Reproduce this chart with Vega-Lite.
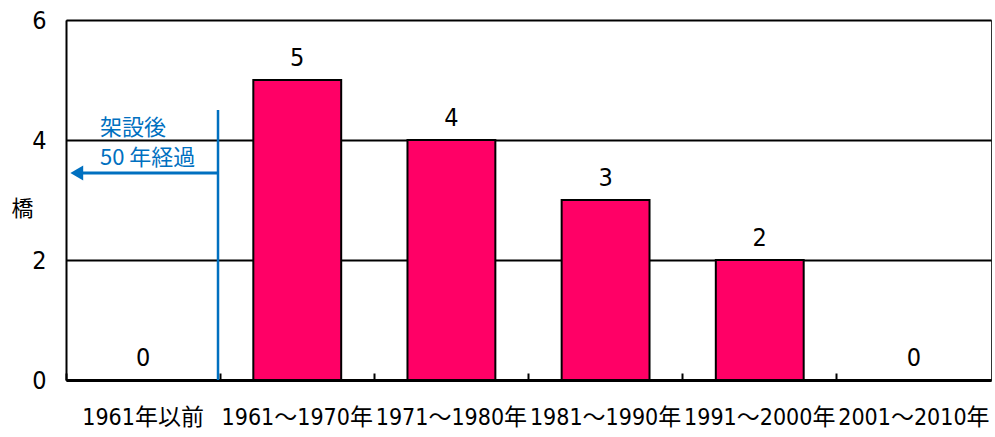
{
  "$schema": "https://vega.github.io/schema/vega-lite/v6.json",
  "width": 925,
  "height": 360,
  "autosize": {"type": "none"},
  "padding": {"left": 66, "top": 20, "right": 4, "bottom": 57},
  "background": "white",
  "config": {
    "view": {"stroke": "#333333", "strokeWidth": 1},
    "font": "DejaVu Sans Condensed, Noto Sans CJK JP, sans-serif"
  },
  "datasets": {
    "bars": [
      {"period": "1961年以前", "count": 0},
      {"period": "1961～1970年", "count": 5},
      {"period": "1971～1980年", "count": 4},
      {"period": "1981～1990年", "count": 3},
      {"period": "1991～2000年", "count": 2},
      {"period": "2001～2010年", "count": 0}
    ],
    "notes": [
      {"x": 0.22, "y": 4.2, "text": "架設後"},
      {"x": 0.22, "y": 3.7, "text": "50 年経過"}
    ],
    "vline": [{"x": 0.986, "y": 0, "y2": 4.5}],
    "arrow": [{"x": 0.986, "x2": 0.1, "y": 3.45}],
    "head": [{"x": 0.07, "y": 3.45}]
  },
  "layer": [
    {
      "data": {"name": "bars"},
      "encoding": {
        "x": {
          "field": "period", "type": "nominal", "sort": null,
          "scale": {"paddingInner": 0, "paddingOuter": 0},
          "axis": {
            "title": null, "labelAngle": 0, "bandPosition": 0, "labelOffset": 0,
            "labelFontSize": 23, "labelColor": "black", "labelPadding": 33,
            "labelFont": "DejaVu Sans Condensed, Noto Sans CJK JP, sans-serif",
            "domainColor": "black", "domainWidth": 3,
            "tickColor": "black", "tickWidth": 2, "tickSize": -7,
            "grid": false
          }
        },
        "y": {
          "field": "count", "type": "quantitative",
          "scale": {"domain": [0, 6], "nice": false},
          "axis": {
            "values": [0, 2, 4, 6], "format": "d", "title": "橋", "titleAngle": 0,
            "titleFontSize": 22, "titleFontWeight": "normal", "titleColor": "black",
            "titleX": -44, "titleY": 188, "titleAlign": "center", "titleBaseline": "middle",
            "titleFont": "Noto Sans CJK JP, sans-serif",
            "labelFontSize": 25, "labelColor": "black", "labelPadding": 20,
            "ticks": false, "domainColor": "black", "domainWidth": 2,
            "grid": true, "gridColor": "black", "gridWidth": 2, "gridOpacity": 1
          }
        }
      },
      "layer": [
        {
          "mark": {"type": "bar", "fill": "#FF0066", "stroke": "black", "strokeWidth": 2, "width": {"band": 0.57}}
        },
        {
          "mark": {"type": "text", "fontSize": 25, "color": "black", "baseline": "alphabetic", "dy": -14},
          "encoding": {"text": {"field": "count", "type": "quantitative"}}
        }
      ]
    },
    {
      "layer": [
        {
          "data": {"name": "vline"},
          "mark": {"type": "rule", "color": "#0070C0", "strokeWidth": 2.5},
          "encoding": {
            "x": {"field": "x", "type": "quantitative", "scale": {"domain": [0, 6], "nice": false, "zero": false}, "axis": null},
            "y": {"field": "y", "type": "quantitative"},
            "y2": {"field": "y2"}
          }
        },
        {
          "data": {"name": "arrow"},
          "mark": {"type": "rule", "color": "#0070C0", "strokeWidth": 3},
          "encoding": {
            "x": {"field": "x", "type": "quantitative", "axis": null},
            "x2": {"field": "x2"},
            "y": {"field": "y", "type": "quantitative"}
          }
        },
        {
          "data": {"name": "head"},
          "mark": {"type": "point", "shape": "triangle-left", "filled": true, "color": "#0070C0", "size": 220, "opacity": 1},
          "encoding": {
            "x": {"field": "x", "type": "quantitative", "axis": null},
            "y": {"field": "y", "type": "quantitative"}
          }
        },
        {
          "data": {"name": "notes"},
          "mark": {"type": "text", "color": "#0070C0", "fontSize": 22, "align": "left", "baseline": "middle", "font": "Noto Sans CJK JP, sans-serif"},
          "encoding": {
            "x": {"field": "x", "type": "quantitative", "axis": null},
            "y": {"field": "y", "type": "quantitative"},
            "text": {"field": "text", "type": "nominal"}
          }
        }
      ]
    }
  ],
  "resolve": {"scale": {"x": "independent"}, "axis": {"x": "independent"}}
}
